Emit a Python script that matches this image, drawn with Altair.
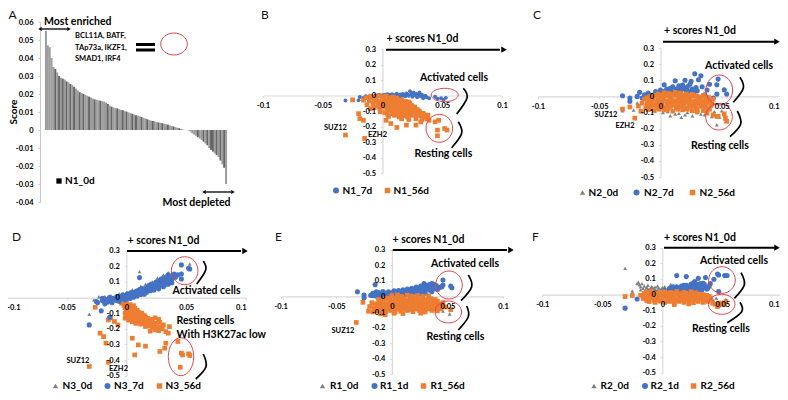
import altair as alt
import pandas as pd

W, H = 772, 384
FONT = "Lato"
BLUE, ORANGE, GREY = "#4472C4", "#ED7D31", "#7F7F7F"

# Panel A: scores (thousandths), in rank order
scores = [55,47,46,40,35,34,32,30,29,28.5,28,27,26.5,25.5,25,24,23,22,21,20.5,20,19.5,19,18.5,18,17.5,17,16.8,16.5,16.3,16,15.8,15.2,14.5,13.5,13,12.5,12.2,12,11.5,11.2,11,10.5,10.2,9.8,9.4,9,8.6,8.2,8,7.6,7.2,6.8,6.5,6,5.5,5.2,5,4.8,4.5,4.2,4,3.8,3.5,3.2,3,2.6,2.2,2,1.6,1.2,1,0.6,0.3,0.1,-0.1,-0.3,-0.9,-1.8,-2.5,-3.2,-4,-4.8,-5.6,-6.5,-7.5,-8.5,-10,-11,-12,-13,-14,-15,-17,-19,-21,-30]
dark_bars = [5,7,9,11,13,15,18,20,23,26,29,33,35,38,41,43,46,48,51,54,57,60,62,65,68,71,81,84,86,88,89,91,93,95]

# Scatter values: (x in thousandths, y in thousandths)
B_blue = [(-31,-32),(-20,-30),(-19,-10),(-16,-15),(-14,-5),(-12,-12),(-10,-2),(-9,-15),(-7,-10),(-6,0),(-4,-8),(-3,3),(-2,-6),(0,2),(1,-5),(2,5),(3,-3),(4,8),(5,0),(6,5),(7,-6),(8,8),(9,2),(10,-4),(11,6),(12,12),(13,0),(14,-8),(15,7),(16,-3),(17,10),(18,3),(19,-6),(20,14),(21,6),(22,-2),(23,28),(24,10),(25,-8),(26,18),(27,2),(28,12),(29,-12),(30,8),(31,20),(32,-5),(33,5),(34,-18),(35,-6),(36,-2),(37,-12),(39,-18),(44,-8),(46,-20),(49,-18),(51,-28),(53,-15)]
B_orange = [(-14,-15),(-10,-5),(-6,-12),(-3,0),(0,-8),(3,-4),(6,-14),(9,-10),(12,-16),(-16,-30),(-11,-35),(-7,-28),(-3,-38),(1,-25),(4,-32),(7,-38),(10,-28),(13,-35),(16,-28),(19,-38),(22,-42),(-13,-60),(-8,-52),(-4,-62),(0,-50),(3,-58),(6,-52),(9,-62),(12,-50),(15,-58),(18,-52),(21,-60),(24,-64),(27,-74),(-10,-85),(-7,-78),(-2,-85),(2,-75),(5,-85),(8,-78),(11,-88),(14,-76),(17,-86),(20,-78),(23,-88),(26,-80),(29,-90),(-2,-105),(2,-110),(6,-100),(9,-112),(13,-102),(16,-110),(19,-104),(22,-112),(25,-103),(28,-112),(31,-104),(34,-115),(5,-135),(10,-128),(14,-138),(18,-130),(21,-138),(24,-128),(28,-136),(32,-130),(35,-138),(38,-128),(16,-150),(22,-155),(28,-150),(33,-155),(37,-150),(39,-160),(-31,-255),(-15,-277),(44,-170),(47,-160),(52,-213),(54,-223),(46,-223),(46,-260),(-20,-117),(-19,-149),(-16,-160),(-25,-28),(12,-206),(7,-181),(3,-160),(20,-191),(28,-191),(32,-170)]
B_orange2 = [(-6,-40),(-1,-45),(2,-42),(5,-45),(8,-48),(11,-45),(14,-45),(17,-46),(20,-48),(23,-52),(-3,-72),(0,-65),(4,-68),(7,-70),(10,-72),(13,-68),(16,-70),(19,-68),(22,-72),(25,-72),(4,-95),(7,-90),(11,-96),(15,-92),(18,-94),(21,-96),(24,-96),(27,-100),(30,-98),(4,-120),(8,-118),(12,-120),(16,-120),(20,-122),(23,-120),(26,-122),(30,-120),(33,-122),(36,-126)]

C_grey = [(-31,-90),(-25,-5),(-25,-60),(-22,-85),(-19,-40),(-15,-95),(-8,-80),(2,-100),(6,-95),(8,-120),(12,-110),(15,-105),(17,-130),(20,-115),(22,-100),(26,-120),(30,-100),(33,-110),(36,-115),(38,-85),(42,-125),(44,-95),(46,-176),(48,-130),(53,-140),(54,-150),(50,-90),(18,45),(25,50)]
C_blue = [(-31,4),(-25,-10),(-25,-31),(-19,0),(-17,25),(-15,-10),(-13,10),(-10,20),(-8,-5),(-6,8),(-4,30),(-3,15),(-1,22),(0,40),(1,5),(2,30),(3,72),(4,18),(5,45),(6,28),(7,10),(8,50),(9,35),(10,60),(11,20),(12,97),(13,45),(14,30),(15,65),(16,50),(17,38),(18,70),(19,55),(20,100),(21,40),(22,60),(23,30),(24,75),(25,93),(26,45),(27,25),(28,140),(29,55),(30,35),(31,103),(33,128),(34,60),(36,10),(38,40),(40,75),(43,-10),(46,14),(46,72),(47,107),(52,41),(54,14)]
C_orange = [(-2,15),(3,22),(7,18),(12,25),(16,20),(21,15),(26,12),(-8,0),(-4,5),(0,-2),(4,4),(8,-3),(12,6),(15,-1),(19,3),(23,-4),(27,2),(31,-2),(35,5),(39,-5),(-13,-18),(-10,-25),(-6,-16),(-2,-24),(2,-18),(5,-27),(9,-20),(13,-26),(17,-17),(20,-25),(24,-19),(28,-27),(32,-20),(36,-28),(40,-22),(43,-18),(-15,-42),(-11,-48),(-7,-38),(-3,-45),(1,-40),(5,-50),(8,-42),(12,-47),(16,-38),(19,-50),(23,-42),(27,-48),(30,-40),(34,-50),(38,-42),(42,-47),(-18,-60),(-12,-72),(-8,-62),(-3,-70),(1,-60),(4,-72),(8,-63),(13,-70),(17,-60),(21,-72),(25,-63),(29,-74),(33,-62),(37,-72),(-16,-92),(-5,-88),(3,-85),(10,-92),(18,-84),(26,-90),(30,-96),(35,-88),(40,-80),(-31,-79),(-25,-66),(-21,-135),(43,-114),(46,-124),(47,-124),(52,-108),(53,-135),(54,-155),(38,-104)]
C_orange2 = [(-11,-8),(-6,-6),(1,8),(6,10),(10,12),(14,10),(18,8),(22,4),(25,6),(29,4),(33,-10),(37,-12),(-8,-30),(-3,-32),(1,-30),(6,-35),(10,-33),(15,-30),(18,-35),(22,-32),(26,-35),(31,-32),(35,-38),(40,-35),(-10,-58),(-5,-55),(0,-50),(6,-58),(10,-56),(15,-52),(19,-60),(24,-55),(28,-58),(32,-52),(36,-58),(41,-58),(-10,-82),(-1,-80),(6,-80),(14,-80),(22,-80),(30,-82)]

D_grey = [(11,166),(-31,-107),(53,215),(-27,-15),(-23,5),(-18,8),(-13,12),(-8,14),(-3,20),(2,25),(6,38),(10,50),(14,60),(18,80),(20,90),(24,105),(28,120),(30,135),(33,140),(36,120),(5,50),(12,72),(16,85),(22,100),(26,125),(31,145),(35,160),(38,155),(-6,24),(0,32)]
D_blue = [(-25,-25),(-24,-32),(-21,-85),(-20,-18),(-18,-28),(-16,-12),(-15,-22),(-14,-126),(-13,-8),(-12,-20),(-11,-4),(-10,-14),(-9,-6),(-8,-18),(-7,-2),(-6,-10),(-5,4),(-4,-6),(-3,8),(-2,-2),(-1,6),(0,12),(0,-4),(1,4),(2,14),(3,6),(4,18),(5,10),(6,26),(7,14),(8,30),(8,18),(9,24),(10,38),(10,26),(11,128),(11,34),(12,46),(13,32),(14,50),(15,38),(16,58),(16,44),(17,50),(18,66),(18,54),(19,46),(20,72),(20,58),(21,64),(22,82),(22,66),(23,74),(24,90),(24,62),(25,78),(26,100),(26,70),(27,86),(28,108),(28,78),(29,94),(30,118),(30,88),(31,102),(32,80),(32,114),(33,95),(34,122),(35,145),(35,105),(37,130),(38,115),(40,150),(41,130),(43,145),(46,209),(46,151),(46,119),(52,188),(53,183),(-31,-175)]
D_blue2 = [(-20,-5),(-14,2),(-8,6),(-3,18),(1,24),(4,32),(7,36),(9,44),(11,52),(13,60),(15,28),(17,34),(19,78),(21,86),(23,48),(25,100),(27,56),(29,118),(31,70),(33,130),(35,85),(36,125),(38,95),(39,140),(-18,-40),(-12,-32),(-6,-24),(-1,-14),(3,-6),(6,2),(9,10),(12,20),(15,22),(20,44),(-16,-30)]
D_orange = [(-6,-12),(-4,-25),(-2,-18),(-4,-36),(-2,-50),(0,-32),(-1,-65),(1,-55),(3,-45),(0,-80),(2,-72),(4,-62),(6,-52),(-1,-100),(1,-90),(3,-85),(5,-75),(7,-68),(9,-80),(0,-118),(2,-108),(4,-100),(6,-92),(8,-88),(10,-95),(-1,-132),(1,-128),(3,-120),(5,-115),(7,-108),(9,-105),(11,-110),(13,-100),(15,-115),(2,-145),(4,-138),(6,-130),(8,-125),(10,-122),(12,-128),(14,-130),(16,-125),(18,-132),(5,-155),(7,-150),(9,-145),(11,-142),(13,-148),(15,-142),(17,-150),(19,-145),(21,-140),(24,-130),(27,-140),(8,-165),(10,-160),(12,-170),(14,-162),(16,-168),(18,-160),(20,-170),(22,-160),(25,-165),(28,-158),(16,-185),(19,-182),(22,-190),(25,-180),(28,-190),(31,-175),(24,-205),(27,-212),(30,-200),(20,-215),(33,-218),(-22,-228),(-19,-250),(-17,-292),(-15,-143),(-10,-153),(-7,-175),(-13,-130),(-26,-62),(-31,-441),(-15,-414),(7,-367),(5,-260),(10,-303),(16,-311),(28,-345),(32,-324),(33,-292),(36,-186),(35,-228),(43,-281),(46,-356),(47,-367),(52,-360),(53,-371),(45,-446)]

E_grey = [(-25,-5),(46,-94),(52,-113),(27,-70),(34,-60),(37,-80),(40,-50),(44,-75),(47,-70),(-15,70),(-20,-60),(15,-80),(-5,-100)]
E_blue = [(-31,30),(-25,9),(-25,-9),(-19,8),(-17,20),(-16,5),(-15,77),(-14,15),(-13,-2),(-12,25),(-11,8),(-10,18),(-9,0),(-8,12),(-7,22),(-6,5),(-5,15),(-4,-3),(-3,10),(-2,20),(-1,2),(0,12),(1,25),(2,5),(3,16),(4,28),(5,8),(6,20),(7,30),(8,10),(9,22),(10,33),(11,14),(12,25),(13,38),(14,16),(15,28),(16,40),(17,20),(18,32),(19,44),(20,22),(21,36),(22,48),(23,26),(24,40),(25,52),(26,30),(27,44),(28,60),(29,83),(30,36),(31,52),(32,66),(33,73),(34,42),(35,56),(36,83),(37,48),(38,64),(40,70),(42,55),(44,60),(46,105),(46,73),(45,62),(53,66),(54,56)]
E_blue2 = [(-14,30),(-8,32),(-3,30),(2,36),(6,38),(10,42),(14,48),(18,52),(22,60),(26,66),(30,72),(34,76),(38,78),(-18,6),(-10,-6),(-4,-10),(3,-6),(10,2),(16,8),(24,14),(30,20),(36,30),(41,45)]
E_orange = [(0,5),(5,10),(9,0),(14,8),(18,2),(23,6),(28,0),(33,4),(-6,-15),(-2,-22),(3,-12),(7,-20),(11,-14),(15,-22),(19,-12),(23,-20),(27,-14),(31,-22),(35,-14),(39,-20),(-18,-40),(-14,-48),(-10,-38),(-6,-46),(-2,-38),(2,-48),(6,-40),(10,-48),(14,-38),(18,-46),(22,-40),(26,-48),(30,-38),(34,-46),(38,-40),(42,-48),(46,-40),(-20,-65),(-16,-72),(-12,-62),(-8,-70),(-4,-62),(0,-72),(4,-64),(8,-70),(12,-62),(16,-72),(20,-64),(24,-70),(28,-62),(32,-72),(36,-64),(40,-70),(44,-62),(48,-68),(53,-85),(-21,-95),(-17,-100),(-13,-92),(-9,-100),(-5,-92),(-1,-90),(3,-100),(8,-95),(14,-90),(19,-98),(25,-92),(30,-100),(36,-90),(41,-92),(-10,-112),(-6,-118),(2,-108),(10,-110),(26,-108),(-32,-167),(-26,-38)]
E_orange2 = [(-12,-20),(-8,-28),(-4,-10),(1,-32),(5,-28),(9,-30),(13,-32),(17,-30),(21,-30),(25,-32),(29,-30),(33,-30),(37,-30),(41,-30),(-15,-55),(-11,-52),(-7,-55),(-3,-52),(1,-56),(5,-54),(9,-56),(13,-52),(17,-56),(21,-52),(25,-56),(29,-52),(33,-56),(37,-52),(41,-56),(45,-52),(-15,-85),(-11,-82),(-7,-84),(-3,-80),(1,-84),(5,-82),(9,-80),(13,-82),(17,-84),(21,-82),(25,-80),(29,-84),(33,-80),(37,-78),(44,-80)]

F_grey = [(-31,168),(-25,23),(-25,5),(-21,70),(-20,79),(-19,62),(-18,50),(-17,70),(-16,40),(-15,55),(-14,30),(-13,45),(-12,60),(-11,25),(-10,40),(-9,50),(-8,20),(-7,35),(-6,48),(-5,15),(-4,30),(-3,42),(-2,20),(-1,35),(0,10),(1,25),(2,50),(3,15),(4,30),(5,40),(6,20),(7,65),(8,30),(9,45),(10,15),(11,32),(13,40),(15,20),(17,28),(20,12),(42,-30),(45,-23),(50,-45),(53,-30),(47,-70),(-18,30),(-14,15),(-10,20),(-6,30),(-2,8),(2,32),(6,36),(10,28),(-12,35),(-8,45),(-4,55),(0,45),(4,22),(8,18),(12,22)]
F_blue = [(-31,-87),(-21,-28),(-15,-20),(-10,5),(-5,15),(0,5),(3,15),(5,8),(7,25),(8,12),(10,35),(11,15),(12,122),(12,50),(13,25),(14,40),(15,12),(16,55),(17,28),(18,42),(19,20),(20,115),(20,60),(21,30),(22,45),(23,18),(24,68),(25,35),(26,50),(27,83),(27,22),(28,40),(29,60),(30,104),(30,28),(31,45),(32,70),(33,30),(34,72),(35,50),(36,109),(37,35),(39,55),(43,98),(46,132),(47,19),(47,125),(52,122),(54,122)]
F_blue2 = [(2,28),(6,40),(9,50),(12,30),(15,38),(18,60),(21,52),(24,38),(26,72),(28,55),(30,66),(33,50),(35,66),(38,42),(40,70),(9,22),(14,25),(19,35),(23,32)]
F_orange = [(-13,15),(-9,20),(-3,12),(2,18),(7,14),(12,20),(18,15),(24,18),(28,12),(-18,-5),(-14,0),(-10,-8),(-6,2),(-2,-6),(2,0),(6,-8),(10,1),(14,-6),(18,-1),(22,-8),(26,0),(30,-6),(34,0),(37,-5),(-16,-25),(-12,-30),(-8,-22),(-4,-30),(0,-22),(4,-30),(8,-24),(12,-32),(16,-22),(20,-30),(24,-24),(28,-32),(32,-24),(36,-30),(40,-22),(-11,-45),(-6,-50),(-2,-42),(2,-50),(6,-44),(10,-52),(14,-44),(18,-50),(22,-42),(26,-52),(30,-44),(34,-50),(38,-44),(42,-55),(-31,-13),(-25,-6),(44,-62),(46,-77),(50,-58),(53,-45),(52,-62),(47,-55),(22,-60),(10,-64)]
F_orange2 = [(-15,8),(-7,8),(0,6),(5,8),(9,8),(15,6),(20,8),(25,6),(31,4),(-14,-15),(-9,-15),(-4,-15),(1,-12),(5,-15),(10,-14),(15,-13),(19,-15),(23,-14),(27,-15),(31,-15),(35,-14),(39,-12),(-13,-38),(-7,-38),(-1,-35),(4,-38),(9,-36),(15,-35),(20,-38),(25,-36),(30,-34),(35,-38),(40,-34)]

x_ticks = [-0.1, -0.05, 0, 0.05, 0.1]
x_ticks_edge = [-0.1, -0.05, 0, 0.05]
y_ticks = [0.3, 0.2, 0.1, 0, -0.1, -0.2, -0.3, -0.4, -0.5]
a_ticks = [0.06, 0.05, 0.04, 0.03, 0.02, 0.01, 0, -0.01, -0.02, -0.03, -0.04]

# Panel frames (page pixels): x of -0.1 and 0.1, y of -0.5 and 0.3
panels = {
    "B": dict(xr=(263, 502), yr=(173, 49), ticks=x_ticks, series=[(B_blue, "circle", BLUE, 15), (B_orange + B_orange2, "square", ORANGE, 22)]),
    "C": dict(xr=(538, 783), yr=(177, 48), ticks=x_ticks_edge, series=[(C_grey, "triangle-up", GREY, 15), (C_blue, "circle", BLUE, 26), (C_orange + C_orange2, "square", ORANGE, 22)]),
    "D": dict(xr=(6.7, 246), yr=(375.7, 250.7), ticks=x_ticks, flush=True, series=[(D_grey, "triangle-up", GREY, 15), (D_orange, "square", ORANGE, 22), (D_blue + D_blue2, "circle", BLUE, 26)]),
    "E": dict(xr=(280.7, 503), yr=(374.3, 249.7), ticks=x_ticks, series=[(E_grey, "triangle-up", GREY, 15), (E_blue + E_blue2, "circle", BLUE, 26), (E_orange + E_orange2, "square", ORANGE, 22)]),
    "F": dict(xr=(542.3, 782.3), yr=(372.7, 247.7), ticks=x_ticks_edge, series=[(F_grey, "triangle-up", GREY, 15), (F_blue + F_blue2, "circle", BLUE, 26), (F_orange + F_orange2, "square", ORANGE, 22)]),
}

# Labels: text, left x, centre y, font size
BIG, SMALL, LEG = 10.5, 7.5, 10
labels = [
    ("Most enriched",44,21.5,BIG),("Most depleted",162.5,202.5,BIG),("N1_0d",65,181,LEG),
    ("BCL11A, BATF,",75,36,SMALL),("TAp73a, IKZF1,",75,48,SMALL),("SMAD1, IRF4",75,58.5,SMALL),
    ("+ scores N1_0d",386.5,39,BIG),("Activated cells",420,77.5,BIG),("Resting cells",414.5,154,BIG),
    ("SUZ12",324,128,SMALL),("EZH2",368,134.5,SMALL),("N1_7d",342.5,190.5,LEG),("N1_56d",393.5,190.5,LEG),
    ("+ scores N1_0d",664,31,BIG),("Activated cells",705,65.5,BIG),("Resting cells",691,145.5,BIG),
    ("SUZ12",594.5,114.5,SMALL),("EZH2",615.5,125.5,SMALL),("N2_0d",588.5,192.5,LEG),("N2_7d",644,192.5,LEG),("N2_56d",699.5,192.5,LEG),
    ("0.1",769,106.5,SMALL),
    ("+ scores N1_0d",127.5,240.5,BIG),("Activated cells",172.5,290.5,BIG),("Resting cells",176.5,320.5,BIG),("With H3K27ac low",176.5,334.5,BIG),
    ("SUZ12",66.5,360.5,SMALL),("EZH2",109,369,SMALL),("N3_0d",62.5,386,LEG),("N3_7d",114,386,LEG),("N3_56d",165.5,386,LEG),
    ("+ scores N1_0d",392.5,240,BIG),("Activated cells",431,263.5,BIG),("Resting cells",426.5,337,BIG),
    ("SUZ12",331.5,330.5,SMALL),("R1_0d",330,386,LEG),("R1_1d",380,386,LEG),("R1_56d",430.5,386,LEG),
    ("+ scores N1_0d",664,237.5,BIG),("Activated cells",700,260.5,BIG),("Resting cells",692,328.5,BIG),
    ("0.1",769,304.5,SMALL),
    ("R2_0d",600.5,386,LEG),("R2_1d",650.5,386,LEG),("R2_56d",700.5,386,LEG),
]
letters = [("A",8.5,14.5),("B",261,14.5),("C",533,14.5),("D",12,236.5),("E",275,236.5),("F",532,236.5)]
ellipses = [(174,44,13.3,11),(444.7,95,13.5,6.7),(439.3,128.3,13.3,14),(719.3,90,13.3,15),(719,116.7,13.3,13.3),
            (184.7,270.7,13.3,14),(181,356.7,12.7,19),(449,285,13.3,14),(448.3,312,13.3,11),(722,280,13.3,13.3),(721.7,304.3,13.3,10)]
brackets = [
    [(463.3,88.3),(467,98),(456.7,114)],[(458.3,121.7),(461.7,133.3),(451.7,147.7)],
    [(740,77.3),(743.3,88.3),(733.3,102.3)],[(737.3,111),(740.7,124),(730,136.7)],
    [(203.3,261),(205.7,270),(196.7,284)],[(203.3,354),(206,366.7),(195.7,379)],
    [(468.3,275),(471.7,286.7),(461,300.7)],[(466.7,306),(468.3,316.7),(458.3,330)],
    [(741,272.7),(744.3,285),(734.3,298.3)],[(740,302.3),(741.7,311.7),(727.3,322.7)],
]
rules = [(386,500,49.7,2),(663,775,41.7,2),(127,241,251,2),(392.7,507,250,2),(664,775,247.7,2),(42,67,29,1.3),(206,231,192,1.3),(136,155,44.5,3),(136,155,50,3)]
heads = [(504,49.7,"triangle-right",40),(777,41.7,"triangle-right",40),(245,251,"triangle-right",40),(511,250,"triangle-right",40),(777,247.7,"triangle-right",40),
         (69,29,"triangle-right",18),(233,192,"triangle-right",18),(40,29,"triangle-left",18),(204,192,"triangle-left",18)]
legend_marks = [(59,181,"square","#000000",28),(336,190.5,"circle",BLUE,36),(387.5,190.5,"square",ORANGE,30),
    (582.5,192.5,"triangle-up",GREY,28),(636.5,192.5,"circle",BLUE,36),(692.5,192.5,"square",ORANGE,30),
    (55.5,386,"triangle-up",GREY,28),(107.5,386,"circle",BLUE,36),(159.5,386,"square",ORANGE,30),
    (322.5,386,"triangle-up",GREY,28),(374.5,386,"circle",BLUE,36),(423.5,386,"square",ORANGE,30),
    (594,386,"triangle-up",GREY,28),(645,386,"circle",BLUE,36),(693.5,386,"square",ORANGE,30)]

LABEL_EXPR = "toString(datum.value)"

def page_x(name, **kw):
    return alt.X(name, scale=None, axis=None, **kw)
def page_y(name, **kw):
    return alt.Y(name, scale=None, axis=None, **kw)

layers = []

# Panel A
bars = pd.DataFrame({
    "rank": [i + 0.5 for i in range(len(scores))],
    "score": [s / 1000 for s in scores],
    "c": ["#666666" if i in dark_bars else "#9c9c9c" for i in range(len(scores))],
})
layers.append(alt.Chart(bars).mark_bar(size=2).encode(
    x=alt.X("rank:Q", scale=alt.Scale(domain=[0, len(scores)], range=[32, 224], nice=False, zero=False), axis=None),
    y=alt.Y("score:Q", stack=None, scale=alt.Scale(domain=[-0.04, 0.06], range=[194, 14], nice=False, zero=False),
            axis=alt.Axis(orient="left", offset=-32, values=a_ticks, labelExpr=LABEL_EXPR, title=None, grid=False,
                          domainColor="#c8c8c8", tickColor="#c8c8c8", tickSize=2, labelFont=FONT, labelFontSize=7.5,
                          labelFontWeight="bold", labelColor="#000000", labelPadding=5, labelOverlap=False, labelFlush=False)),
    color=alt.Color("c:N", scale=None, legend=None),
))

def axes(p, visible):
    x0px = (p["xr"][0] + p["xr"][1]) / 2 - 8
    y0px = p["yr"][0] + (p["yr"][1] - p["yr"][0]) * 0.5 / 0.8 - 8
    common = dict(title=None, grid=False, labelOverlap=False, labelExpr=LABEL_EXPR)
    if visible == "lines":
        style = dict(labels=False, domainColor="#d9d9d9", tickColor="#d9d9d9", tickSize=2, domainWidth=1.2, zindex=0)
    else:
        style = dict(domain=False, ticks=False, tickSize=0, labelFont=FONT, labelFontSize=7.5, labelFontWeight="bold",
                     labelColor="#000000", zindex=1)
    ax = alt.Axis(orient="bottom", offset=-(H - y0px), values=p["ticks"], labelPadding=6,
                  labelFlush=p.get("flush", False), **common, **style)
    ay = alt.Axis(orient="left", offset=-x0px, values=y_ticks, labelPadding=7, labelFlush=False, **common, **style)
    return ax, ay

for name, p in panels.items():
    xs = alt.Scale(domain=[-0.1, 0.1], range=[p["xr"][0] - 8, p["xr"][1] - 8], nice=False, zero=False)
    ys = alt.Scale(domain=[-0.5, 0.3], range=[p["yr"][0] - 8, p["yr"][1] - 8], nice=False, zero=False)
    n = len(p["series"])
    for i, (pts, shape, color, size) in enumerate(p["series"]):
        df = pd.DataFrame({"x": [a / 1000 for a, b in pts], "y": [b / 1000 for a, b in pts]})
        ax, ay = (None, None)
        if i == 0:
            ax, ay = axes(p, "lines")
        if i == n - 1:
            ax, ay = axes(p, "labels")
        layers.append(alt.Chart(df).mark_point(shape=shape, filled=True, size=size, color=color, opacity=1, strokeWidth=0).encode(
            x=alt.X("x:Q", scale=xs, axis=ax), y=alt.Y("y:Q", scale=ys, axis=ay)))

# Ellipses
for cx, cy, rx, ry in ellipses:
    k = round(ry / rx, 3)
    path = f"M-1,0A1,{k},0,1,1,1,0A1,{k},0,1,1,-1,0Z"
    layers.append(alt.Chart(pd.DataFrame({"px": [cx - 8], "py": [cy - 8]})).mark_point(
        shape=path, size=(2 * rx) ** 2, filled=False, color="#E0474C", strokeWidth=1, opacity=1
    ).encode(x=page_x("px:Q"), y=page_y("py:Q")))

# Brackets
rows = [dict(b=i, o=j, px=x - 8, py=y - 8) for i, br in enumerate(brackets) for j, (x, y) in enumerate(br)]
layers.append(alt.Chart(pd.DataFrame(rows)).mark_line(interpolate="cardinal", color="#000000", strokeWidth=1.7).encode(
    x=page_x("px:Q"), y=page_y("py:Q"), detail="b:N", order="o:Q"))

# Arrows and the equals sign
rdf = pd.DataFrame([dict(x1=a - 8, x2=b - 8, y=c - 8, w=d) for a, b, c, d in rules])
layers.append(alt.Chart(rdf).mark_rule(color="#000000").encode(
    x=page_x("x1:Q"), x2="x2:Q", y=page_y("y:Q"), strokeWidth=alt.StrokeWidth("w:Q", scale=None, legend=None)))
for x, y, shape, size in heads:
    layers.append(alt.Chart(pd.DataFrame({"px": [x - 8], "py": [y - 8]})).mark_point(
        shape=shape, size=size, filled=True, color="#000000", opacity=1, strokeWidth=0
    ).encode(x=page_x("px:Q"), y=page_y("py:Q")))

# Legend markers
for x, y, shape, color, size in legend_marks:
    layers.append(alt.Chart(pd.DataFrame({"px": [x - 8], "py": [y - 8]})).mark_point(
        shape=shape, size=size, filled=True, color=color, opacity=1, strokeWidth=0
    ).encode(x=page_x("px:Q"), y=page_y("py:Q")))

# Text
tdf = pd.DataFrame([dict(t=t, px=x - 8, py=y - 8, fs=s) for t, x, y, s in labels])
layers.append(alt.Chart(tdf).mark_text(align="left", baseline="middle", font=FONT, fontWeight="bold", color="#000000").encode(
    x=page_x("px:Q"), y=page_y("py:Q"), text="t:N", size=alt.Size("fs:Q", scale=None, legend=None)))
ldf = pd.DataFrame([dict(t=t, px=x - 8, py=y - 8) for t, x, y in letters])
layers.append(alt.Chart(ldf).mark_text(align="left", baseline="middle", font=FONT, fontSize=12, color="#111111").encode(
    x=page_x("px:Q"), y=page_y("py:Q"), text="t:N"))
layers.append(alt.Chart(pd.DataFrame({"t": ["Score"], "px": [5.5], "py": [104]})).mark_text(
    align="center", baseline="middle", font=FONT, fontSize=10, fontWeight="bold", angle=270, color="#000000"
).encode(x=page_x("px:Q"), y=page_y("py:Q"), text="t:N"))

chart = alt.layer(*layers).resolve_scale(x="independent", y="independent").properties(
    width=W, height=H, padding=0, autosize=alt.AutoSizeParams(type="none"), background="#ffffff"
).configure_view(stroke=None)

chart.save("out.html", embed_options={"renderer": "svg", "actions": False})
